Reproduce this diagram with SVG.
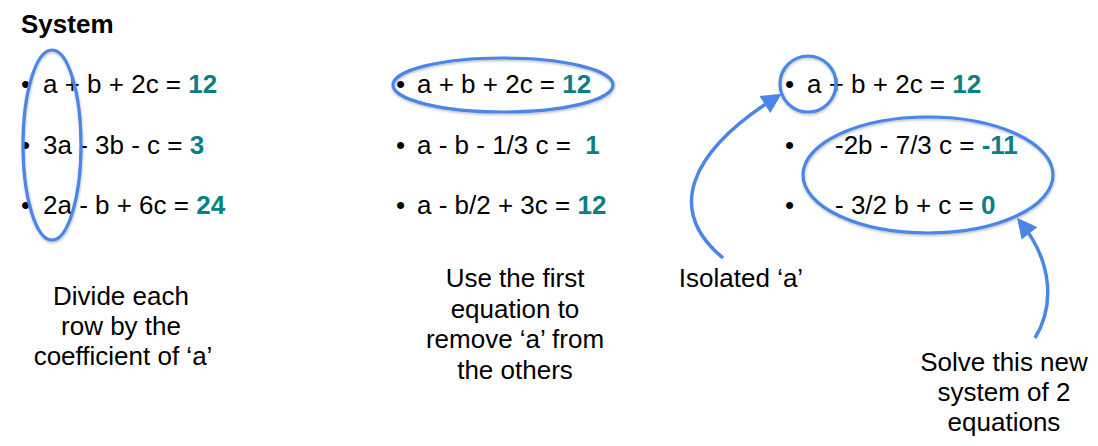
<svg xmlns="http://www.w3.org/2000/svg" width="1098" height="446" viewBox="0 0 1098 446">
<style>
text{font-family:"Liberation Sans",Arial,sans-serif;font-size:26px;fill:#000}
.title{font-weight:bold;font-size:26px}
.num{font-weight:bold;fill:#0b7f86}
.lbl{text-anchor:middle}
.ring{fill:none;stroke:#4a86e8;stroke-width:3.2;filter:url(#sh)}
.arr{fill:none;stroke:#4a86e8;stroke-width:3.5;marker-end:url(#ah)}
</style>
<defs>
<filter id="sh" x="-20%" y="-20%" width="140%" height="140%">
<feDropShadow dx="0.5" dy="1.5" stdDeviation="1.2" flood-color="#000" flood-opacity="0.25"/>
</filter>
<marker id="ah" viewBox="0 0 10 10" refX="6" refY="5" markerWidth="22" markerHeight="20" markerUnits="userSpaceOnUse" orient="auto">
<path d="M0,0 L10,5 L0,10 z" fill="#4a86e8"/>
</marker>
</defs>
<rect width="1098" height="446" fill="#fff"/>
<g id="title"><text class="title" x="21" y="33">System</text></g>
<g id="system">
<text x="21" y="93">•</text><text x="43" y="93">a + b + 2c = <tspan class="num">12</tspan></text>
<text x="21" y="154">•</text><text x="43" y="154">3a - 3b - c = <tspan class="num">3</tspan></text>
<text x="21" y="214">•</text><text x="43" y="214">2a - b + 6c = <tspan class="num">24</tspan></text>
</g>
<g id="normalized">
<text x="396" y="93">•</text><text x="417" y="93">a + b + 2c = <tspan class="num">12</tspan></text>
<text x="396" y="154">•</text><text x="417" y="154">a - b - 1/3 c = <tspan class="num" dx="7">1</tspan></text>
<text x="396" y="214">•</text><text x="417" y="214">a - b/2 + 3c = <tspan class="num">12</tspan></text>
</g>
<g id="reduced">
<text x="785" y="93">•</text><text x="807" y="93">a + b + 2c = <tspan class="num">12</tspan></text>
<text x="785" y="154">•</text><text x="835" y="154">-2b - 7/3 c = <tspan class="num">-11</tspan></text>
<text x="785" y="214">•</text><text x="835" y="214">- 3/2 b + c = <tspan class="num">0</tspan></text>
</g>
<g id="ellipse-col1"><ellipse class="ring" cx="52" cy="145" rx="29" ry="95"/></g>
<g id="ellipse-col2"><ellipse class="ring" cx="503" cy="85" rx="110" ry="27"/></g>
<g id="circle-a"><circle class="ring" cx="808" cy="84" r="28"/></g>
<g id="ellipse-sub"><ellipse class="ring" cx="928" cy="175" rx="125" ry="58"/></g>
<g id="label-divide">
<text class="lbl" x="121" y="305">Divide each</text>
<text class="lbl" x="121" y="335">row by the</text>
<text class="lbl" x="123" y="365">coefficient of ‘a’</text>
</g>
<g id="label-use">
<text class="lbl" x="515" y="287">Use the first</text>
<text class="lbl" x="515" y="318">equation to</text>
<text class="lbl" x="515" y="348">remove ‘a’ from</text>
<text class="lbl" x="515" y="379">the others</text>
</g>
<g id="label-isolated"><text class="lbl" x="741" y="287">Isolated ‘a’</text></g>
<g id="label-solve">
<text class="lbl" x="1004" y="371">Solve this new</text>
<text class="lbl" x="1004" y="401">system of 2</text>
<text class="lbl" x="1004" y="431">equations</text>
</g>
<g id="connectors">
<path class="arr" d="M723,258 C665,210 690,152 775,98"/>
<path class="arr" d="M1035,338 C1055,305 1052,262 1022,224"/>
</g>
</svg>
